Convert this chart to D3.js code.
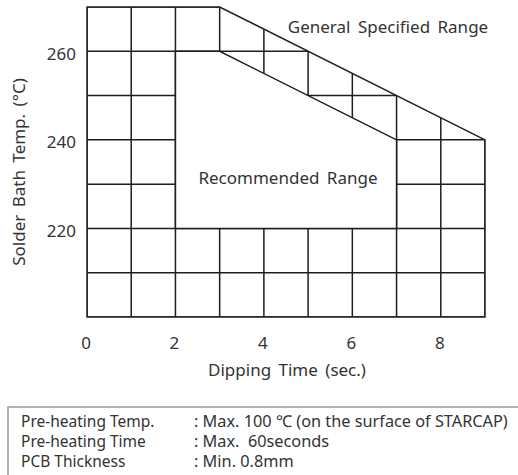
<!DOCTYPE html>
<html><head><meta charset="utf-8">
<script src="https://cdn.jsdelivr.net/npm/d3@7"></script>
<style>
body{margin:0;background:#fff;}
text{font-family:"Noto Sans",sans-serif;fill:#333;}
</style></head>
<body><svg id="c" width="518" height="475"></svg>
<script>
// Data
const xGrid = [0,1,2,3,4,5,6,7,8,9];
const yGrid = [200,210,220,230,240,250,260,270];
const xTicks = [0,2,4,6,8];
const yTicks = [220,240,260];
const generalRange = [[0,270],[3,270],[9,240],[9,200],[0,200]];
const recommendedRange = [[2,220],[2,260],[3,260],[7,240],[7,220]];
const noteLabels = ["Pre-heating Temp.","Pre-heating Time","PCB Thickness"];
const noteValues = [": Max. 100 \u2103 (on the surface of STARCAP)",": Max.  60seconds",": Min. 0.8mm"];

const svg = d3.select("#c");
const x = d3.scaleLinear().domain([0,9]).range([87,485]);
const y = d3.scaleLinear().domain([200,270]).range([317,7]);
const line = d3.line().x(d=>x(d[0])).y(d=>y(d[1]));
const stroke = "#1e1e1e", sw = 1.5;

svg.append("clipPath").attr("id","clipG").append("path").attr("d", line(generalRange)+"Z");
const g = svg.append("g").attr("clip-path","url(#clipG)");
g.selectAll(".vx").data(xGrid).join("line")
  .attr("x1",d=>x(d)).attr("x2",d=>x(d)).attr("y1",y(200)).attr("y2",y(270))
  .attr("stroke",stroke).attr("stroke-width",sw);
g.selectAll(".hy").data(yGrid).join("line")
  .attr("y1",d=>y(d)).attr("y2",d=>y(d)).attr("x1",x(0)).attr("x2",x(9))
  .attr("stroke",stroke).attr("stroke-width",sw);

svg.append("path").attr("d", line(recommendedRange)+"Z")
  .attr("fill","#fff").attr("stroke",stroke).attr("stroke-width",sw);
svg.append("path").attr("d", line(generalRange)+"Z")
  .attr("fill","none").attr("stroke",stroke).attr("stroke-width",sw);

// tick labels
svg.selectAll(".xt").data(xTicks).join("text")
  .attr("x",d=>x(d)-1).attr("y",349).attr("text-anchor","middle")
  .style("font-size","17px").text(d=>d);
svg.selectAll(".yt").data(yTicks).join("text")
  .attr("x",76).attr("y",d=>y(d)+8.5).attr("text-anchor","end")
  .style("font-size","17px").text(d=>d);

svg.append("text").attr("x",287).attr("y",376).attr("text-anchor","middle")
  .style("font-size","17px").style("word-spacing","3px").text("Dipping Time (sec.)");
svg.append("text").attr("transform","translate(25,172) rotate(-90)").attr("text-anchor","middle")
  .style("font-size","17px").style("word-spacing","3px").text("Solder Bath Temp. (\u00B0C)");

svg.append("text").attr("x",388).attr("y",33).attr("text-anchor","middle")
  .style("font-size","17px").style("word-spacing","3px").text("General Specified Range");
svg.append("text").attr("x",288).attr("y",184).attr("text-anchor","middle")
  .style("font-size","17px").style("word-spacing","3px").text("Recommended Range");

// note box
svg.append("rect").attr("x",8).attr("y",407).attr("width",520).attr("height",80)
  .attr("fill","#fff").attr("stroke","#999").attr("stroke-width",1.5);
svg.selectAll(".nl").data(noteLabels).join("text")
  .attr("x",21).attr("y",(d,i)=>427+i*20).style("font-size","15.5px").text(d=>d);
svg.selectAll(".nv").data(noteValues).join("text")
  .attr("x",194).attr("y",(d,i)=>427+i*20).style("font-size","16.3px").style("white-space","pre").text(d=>d);
</script></body></html>
